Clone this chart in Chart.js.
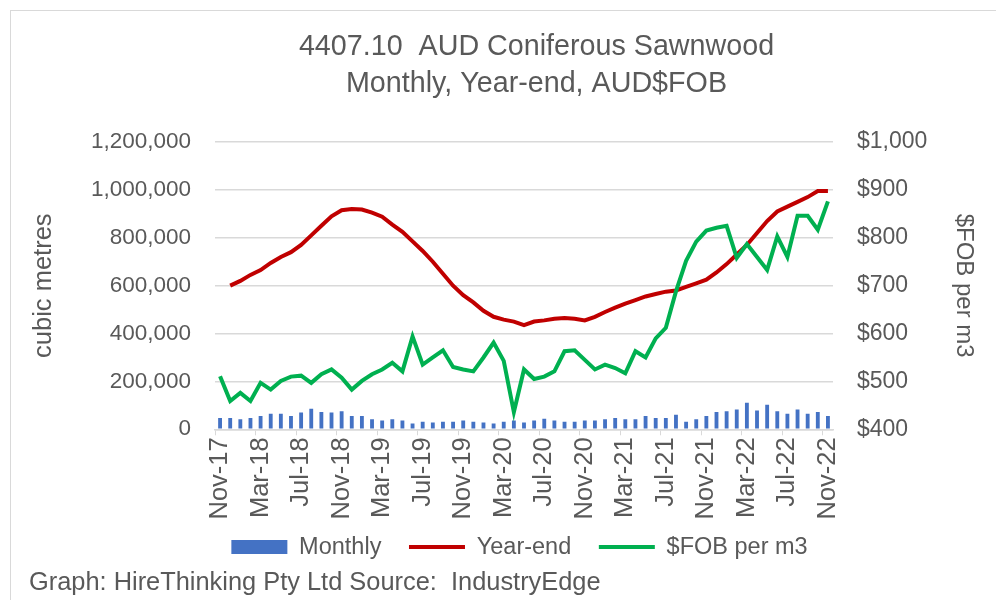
<!DOCTYPE html>
<html>
<head>
<meta charset="utf-8">
<script src="https://cdn.jsdelivr.net/npm/chart.js@4/dist/chart.umd.min.js"></script>
<style>
  html, body { margin: 0; padding: 0; background: #fff; }
  #wrap { position: relative; width: 996px; height: 600px; }
  #wrap:before { content: ''; position: absolute; left: 10px; top: 10px; right: 0; bottom: 0; border-left: 1px solid #d9d9d9; border-top: 1px solid #d9d9d9; }
</style>
</head>
<body>
<div id="wrap"><canvas id="sawnwoodChart" width="996" height="600"></canvas></div>
<script>
'use strict'

const months = [
  'Nov-17', 'Dec-17', 'Jan-18', 'Feb-18', 'Mar-18', 'Apr-18', 'May-18', 'Jun-18', 'Jul-18', 'Aug-18', 'Sep-18', 'Oct-18',
  'Nov-18', 'Dec-18', 'Jan-19', 'Feb-19', 'Mar-19', 'Apr-19', 'May-19', 'Jun-19', 'Jul-19', 'Aug-19', 'Sep-19', 'Oct-19',
  'Nov-19', 'Dec-19', 'Jan-20', 'Feb-20', 'Mar-20', 'Apr-20', 'May-20', 'Jun-20', 'Jul-20', 'Aug-20', 'Sep-20', 'Oct-20',
  'Nov-20', 'Dec-20', 'Jan-21', 'Feb-21', 'Mar-21', 'Apr-21', 'May-21', 'Jun-21', 'Jul-21', 'Aug-21', 'Sep-21', 'Oct-21',
  'Nov-21', 'Dec-21', 'Jan-22', 'Feb-22', 'Mar-22', 'Apr-22', 'May-22', 'Jun-22', 'Jul-22', 'Aug-22', 'Sep-22', 'Oct-22',
  'Nov-22'
]

// cubic metres per month
const monthly = [
  47000, 47000, 42000, 47000, 56000, 65000, 65000, 56000, 70000, 86000, 72000, 70000,
  75000, 56000, 56000, 42000, 37000, 42000, 37000, 24000, 31000, 28000, 31000, 31000,
  37000, 31000, 28000, 24000, 31000, 37000, 28000, 37000, 44000, 37000, 31000, 31000,
  37000, 37000, 42000, 47000, 42000, 42000, 56000, 47000, 47000, 61000, 31000, 42000,
  56000, 72000, 75000, 83000, 111000, 79000, 103000, 75000, 65000, 83000, 65000, 72000,
  56000
]

// rolling year-end cubic metres
const yearEnd = [
  null, 600000, 620000, 645000, 665000, 695000, 720000, 740000, 770000, 810000, 850000, 890000,
  915000, 920000, 918000, 905000, 888000, 855000, 825000, 785000, 745000, 700000, 650000, 600000,
  560000, 530000, 495000, 470000, 458000, 450000, 435000, 450000, 455000, 462000, 465000, 462000,
  455000, 470000, 490000, 508000, 525000, 540000, 555000, 565000, 575000, 580000, 595000, 610000,
  625000, 655000, 690000, 730000, 770000, 820000, 870000, 910000, 930000, 950000, 970000, 995000,
  995000
]

// AUD FOB per m3
const fobPerM3 = [
  511, 459, 476, 459, 497, 483, 501, 510, 512, 497, 515, 525,
  508, 483, 501, 515, 525, 539, 521, 594, 535, 550, 565, 530,
  525, 521, 550, 581, 543, 436, 525, 505, 510, 521, 563, 565,
  545, 525, 535, 528, 517, 563, 550, 590, 612, 688, 752, 792,
  815, 821, 825, 758, 787, 760, 733, 803, 760, 846, 846, 817,
  876
]

const FONT = "'Liberation Sans', Arial, sans-serif"
const GREY = '#595959'
const GRID = '#d9d9d9'

// title and legend sit a little right of centre in the original
const nudgeBlocks = {
  id: 'nudgeBlocks',
  afterLayout (chart) {
    chart.titleBlock.left += 66
    chart.legend.left += 32
  }
}

const ctx = document.getElementById('sawnwoodChart').getContext('2d')
const chart = new Chart(ctx, {
  type: 'bar',
  plugins: [nudgeBlocks],
  data: {
    labels: months,
    datasets: [{
      label: 'Monthly',
      data: monthly,
      backgroundColor: '#4472c4',
      borderColor: '#4472c4',
      borderWidth: 0,
      barPercentage: 0.38,
      categoryPercentage: 1,
      yAxisID: 'y',
      order: 3
    }, {
      type: 'line',
      label: 'Year-end',
      data: yearEnd,
      borderColor: '#c00000',
      backgroundColor: '#c00000',
      borderWidth: 4,
      pointRadius: 0,
      tension: 0,
      yAxisID: 'y',
      order: 2
    }, {
      type: 'line',
      label: '$FOB per m3',
      data: fobPerM3,
      borderColor: '#00b050',
      backgroundColor: '#00b050',
      borderWidth: 4,
      pointRadius: 0,
      tension: 0,
      yAxisID: 'y1',
      order: 1
    }]
  },
  options: {
    responsive: false,
    animation: false,
    layout: { padding: { left: 29, right: 18, top: 0, bottom: 2 } },
    plugins: {
      tooltip: { enabled: false },
      title: {
        display: true,
        text: ['4407.10  AUD Coniferous Sawnwood', 'Monthly, Year-end, AUD$FOB'],
        color: GREY,
        font: { family: FONT, size: 28.7, weight: 'normal', lineHeight: 1.29 },
        padding: { top: 29, bottom: 39 }
      },
      subtitle: {
        display: true,
        position: 'bottom',
        align: 'start',
        text: 'Graph: HireThinking Pty Ltd Source:  IndustryEdge',
        color: GREY,
        font: { family: FONT, size: 25.4, lineHeight: 1.15 },
        padding: { top: 0, bottom: 0 }
      },
      legend: {
        position: 'bottom',
        labels: {
          color: GREY,
          font: { family: FONT, size: 23.5 },
          usePointStyle: true,
          pointStyleWidth: 56,
          boxHeight: 14,
          padding: 8,
          generateLabels: c => c.data.datasets.map((ds, i) => ({
            text: i < 2 ? ds.label + '   ' : ds.label,
            fillStyle: ds.backgroundColor,
            strokeStyle: ds.borderColor,
            lineWidth: ds.type === 'line' ? 4 : 0,
            pointStyle: ds.type === 'line' ? 'line' : 'rect',
            fontColor: GREY,
            hidden: false,
            datasetIndex: i
          }))
        }
      }
    },
    scales: {
      x: {
        offset: true,
        afterFit: s => { s.height = 98 },
        grid: {
          offset: true,
          drawOnChartArea: false,
          tickLength: 6,
          color: ctx => (ctx.index % 4 === 0 ? GRID : 'rgba(0,0,0,0)')
        },
        border: { color: GRID, width: 1.5 },
        ticks: {
          autoSkip: false,
          minRotation: 90,
          maxRotation: 90,
          padding: 2,
          color: GREY,
          font: { family: FONT, size: 25.5 },
          callback: function (val, idx) { return idx % 4 === 0 ? this.getLabelForValue(val) : '' }
        }
      },
      y: {
        position: 'left',
        min: 0,
        max: 1200000,
        afterFit: s => { s.width = 186 },
        grid: { color: GRID, lineWidth: 1.5, drawTicks: false },
        border: { display: false },
        ticks: {
          stepSize: 200000,
          padding: 24,
          color: GREY,
          font: { family: FONT, size: 22.5 },
          callback: v => v.toLocaleString('en-US')
        },
        title: {
          display: true,
          text: 'cubic metres',
          color: GREY,
          font: { family: FONT, size: 25.5 },
          padding: { top: 0, bottom: 0 }
        }
      },
      y1: {
        position: 'right',
        min: 400,
        max: 1000,
        afterFit: s => { s.width = 145 },
        grid: { drawOnChartArea: false, drawTicks: false },
        border: { display: false },
        ticks: {
          stepSize: 100,
          padding: 24,
          color: GREY,
          font: { family: FONT, size: 23 },
          callback: v => '$' + v.toLocaleString('en-US')
        },
        title: {
          display: true,
          text: '$FOB per m3',
          color: GREY,
          font: { family: FONT, size: 24 },
          padding: { top: 0, bottom: 5 }
        }
      }
    }
  }
})
</script>
</body>
</html>
